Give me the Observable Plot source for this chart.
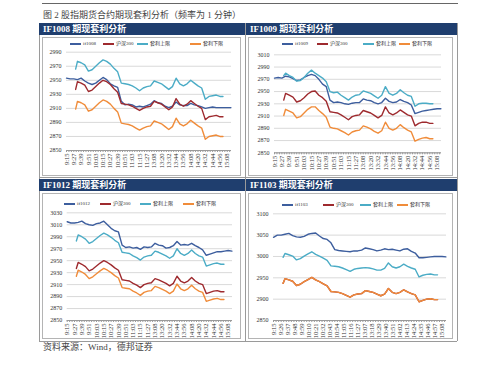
<!DOCTYPE html>
<html>
<head>
<meta charset="utf-8">
<script src="https://cdn.jsdelivr.net/npm/d3@7"></script>
<script src="https://cdn.jsdelivr.net/npm/@observablehq/plot@0.6"></script>
<style>
  html, body { margin: 0; padding: 0; background: #fff; }
  #page { position: relative; width: 500px; height: 371px; overflow: hidden; background: #fff;
          font-family: "Liberation Serif", "Noto Sans CJK SC", serif; color: #333; }
  .abs { position: absolute; }
  .hdr { position: absolute; background: #1f3e6e; color: #fff; font-weight: bold; font-size: 9px;
         line-height: 12px; height: 12px; padding-left: 4px; box-sizing: border-box; white-space: nowrap; }
  .frame { position: absolute; border: 1px solid #b4b4b4; box-sizing: border-box; }
  .vline { position: absolute; width: 0; border-left: 1px solid #9a9a9a; }
  .hline { position: absolute; height: 0; border-top: 1px solid #9a9a9a; }
  .leg { position: absolute; font-size: 5px; line-height: 6px; white-space: nowrap; color: #333;
         display: flex; align-items: center; }
  .sw { display: inline-block; width: 11px; height: 1.6px; margin-right: 2px; }
  svg { position: absolute; }
</style>
</head>
<body>
<div id="page"></div>
<script>
// ---------- data ----------
const futIdx = d3.range(0, 271, 6);                       // minute index from 9:15 (futures)
const spotIdx = [15, 18, ...d3.range(24, 253, 6), 257];   // minute index (spot: 9:30 - 15:00)

const ticksA = ["9:15","9:27","9:39","9:51","10:03","10:15","10:27","10:39","10:51","11:03","11:15","11:27",
                "13:08","13:20","13:32","13:44","13:56","14:08","14:20","14:32","14:44","14:56","15:08"];
const ticksB = ["9:15","9:26","9:37","9:48","9:59","10:10","10:21","10:32","10:43","10:54","11:05","11:16","11:27",
                "13:07","13:18","13:29","13:40","13:51","14:02","14:13","14:24","14:35","14:46","14:57","15:08"];

const seriesNames = ["沪深300", "套利上限", "套利下限"];
const panelTitles = ["IF1008 期现套利分析", "IF1009 期现套利分析", "IF1012 期现套利分析", "IF1103 期现套利分析"];
const futNames = ["if1008", "if1009", "if1012", "if1103"];

// IF1008
const if1008 = [2953,2952,2952,2951,2953,2949,2946,2944,2946,2950,2954,2951,2945,2942,2940,2920,2915,2916,2915,2912,
                2913,2912,2914,2916,2921,2918,2917,2913,2911,2913,2919,2915,2914,2914,2917,2915,2914,2912,2910,2911,
                2912,2911,2911,2911,2911,2911];
const hs1008 = [2937,2948,2946,2943,2934,2936,2941,2946,2950,2948,2944,2938,2933,2917,2916,2915,2913,2910,2907,2910,
                2912,2913,2920,2918,2916,2912,2908,2912,2924,2916,2913,2916,2921,2917,2913,2910,2894,2898,2899,2900,
                2898,2898];
const up1008 = [2966,2977,2975,2972,2963,2965,2970,2975,2979,2977,2973,2967,2962,2946,2945,2944,2942,2939,2935,2939,
                2941,2942,2949,2947,2945,2941,2937,2941,2953,2945,2942,2945,2950,2946,2942,2939,2923,2927,2928,2929,
                2927,2927];
const lo1008 = [2909,2920,2918,2915,2906,2908,2913,2918,2922,2920,2916,2910,2905,2889,2888,2887,2885,2882,2879,2882,
                2884,2885,2892,2890,2888,2884,2880,2884,2896,2888,2885,2888,2893,2889,2885,2882,2866,2870,2871,2872,
                2870,2870];
// IF1009
const if1009 = [2972,2973,2972,2975,2974,2971,2968,2969,2973,2976,2978,2976,2970,2962,2958,2936,2932,2933,2932,2930,
                2929,2931,2932,2932,2938,2936,2935,2932,2930,2932,2939,2934,2932,2933,2937,2934,2932,2928,2914,2916,
                2918,2919,2920,2921,2922,2922];
const hs1009 = [2936,2947,2944,2941,2933,2935,2940,2946,2950,2951,2944,2940,2934,2917,2916,2915,2912,2908,2904,2909,
                2911,2912,2919,2917,2915,2911,2907,2911,2925,2915,2912,2915,2920,2916,2912,2910,2894,2898,2900,2900,
                2898,2898];
const up1009 = [2976,2980,2976,2973,2967,2968,2973,2980,2985,2980,2976,2972,2966,2950,2948,2949,2944,2940,2936,2941,
                2944,2945,2951,2949,2947,2943,2939,2944,2958,2947,2944,2947,2953,2948,2944,2942,2926,2930,2931,2931,
                2930,2930];
const lo1009 = [2911,2921,2918,2915,2907,2909,2915,2921,2925,2925,2919,2914,2908,2892,2890,2889,2886,2883,2879,2884,
                2886,2887,2894,2892,2889,2885,2882,2886,2900,2890,2887,2890,2896,2891,2887,2884,2869,2872,2874,2875,
                2873,2873];
// IF1012
const if1012 = [3015,3013,3013,3014,3016,3012,3010,3009,3012,3013,3016,3010,3004,3000,2998,2976,2972,2973,2971,2972,
                2969,2973,2972,2973,2979,2976,2975,2971,2972,2975,2982,2976,2977,2976,2979,2975,2972,2968,2959,2961,
                2963,2965,2965,2966,2967,2966];
const hs1012 = [2937,2947,2944,2940,2933,2936,2941,2946,2950,2947,2943,2938,2934,2918,2917,2916,2912,2909,2905,2910,
                2912,2913,2920,2918,2915,2912,2908,2912,2924,2916,2913,2916,2922,2916,2912,2910,2895,2897,2899,2900,
                2898,2898];
const up1012 = [2983,2993,2990,2986,2979,2982,2987,2992,2996,2993,2989,2984,2980,2964,2963,2962,2958,2955,2951,2956,
                2958,2959,2966,2964,2961,2958,2954,2958,2970,2962,2959,2962,2968,2962,2958,2956,2941,2943,2945,2946,
                2944,2944];
const lo1012 = [2924,2934,2931,2927,2920,2923,2928,2933,2937,2934,2930,2925,2921,2905,2904,2903,2899,2896,2892,2897,
                2899,2900,2907,2905,2902,2899,2895,2899,2911,2903,2900,2903,2909,2903,2899,2897,2882,2884,2886,2887,
                2885,2885];
// IF1103
const if1103 = [3045,3050,3050,3052,3054,3049,3046,3045,3047,3052,3054,3055,3048,3042,3040,3032,3016,3014,3013,3012,
                3011,3013,3013,3015,3020,3018,3016,3013,3015,3018,3016,3017,3015,3013,3017,3018,3012,3008,2997,2997,
                2998,2999,3000,3000,3000,2999];
const hs1103 = [2937,2948,2945,2942,2932,2935,2941,2946,2951,2945,2941,2936,2931,2918,2917,2916,2913,2909,2905,2910,
                2912,2913,2920,2918,2916,2912,2908,2912,2925,2916,2913,2916,2922,2917,2913,2910,2894,2897,2900,2901,
                2899,2899];
const up1103 = [2998,3007,3004,3001,2992,2995,3001,3006,3011,3005,3001,2996,2991,2978,2977,2976,2973,2969,2965,2970,
                2972,2973,2974,2973,2971,2968,2968,2972,2985,2976,2973,2976,2982,2977,2973,2970,2952,2956,2958,2959,
                2957,2957];
const lo1103 = [2937,2948,2945,2942,2932,2935,2941,2946,2951,2945,2941,2936,2931,2918,2917,2916,2913,2909,2905,2910,
                2912,2913,2920,2918,2916,2912,2908,2912,2925,2916,2913,2916,2922,2917,2913,2910,2894,2897,2900,2901,
                2899,2899];

const yTicksA = [2850,2870,2890,2910,2930,2950,2970,2990];
const yTicksB = [2850,2870,2890,2910,2930,2950,2970,2990,3010];
const yTicksC = [2850,2870,2890,2910,2930,2950,2970,2990,3010,3030];
const yTicksD = [2850,2900,2950,3000,3050,3100];

// ---------- layout / style ----------
const colors = ["#3d5e9e", "#9e2a2e", "#4bacc6", "#f08c3a"];
const page = document.getElementById("page");
function el(cls, css, html) {
  const d = document.createElement("div");
  d.className = cls;
  Object.assign(d.style, css);
  if (html != null) d.innerHTML = html;
  page.appendChild(d);
  return d;
}

// top rule, title, caption
el("hline", {left: "42px", top: "3px", width: "416px", borderTop: "1px solid #666"});
el("abs", {left: "43px", top: "9px", fontSize: "9px", lineHeight: "12px", color: "#444", whiteSpace: "nowrap"},
   "图 2 股指期货合约期现套利分析（频率为 1 分钟）");
el("abs", {left: "43px", top: "341px", fontSize: "9px", lineHeight: "12px", color: "#444", whiteSpace: "nowrap"},
   "资料来源：Wind，德邦证券");

// table lines
[[39, 23, 318], [245, 23, 318], [457, 23, 318]].forEach(([x, y, h]) =>
  el("vline", {left: x + "px", top: y + "px", height: h + "px"}));
el("hline", {left: "39px", top: "177px", width: "418px"});
el("hline", {left: "39px", top: "341px", width: "418px"});

const panels = [
  {hdr: [39, 23, 206], frame: [42, 37, 199, 139], svg: [42, 46, 198, 128], m: [5.7, 9, 24, 24],
   yd: [2850, 2990], yt: yTicksA, step: 12, labels: ticksA, fut: if1008, hs: hs1008, up: up1008, lo: lo1008,
   leg: [44, [70, 103, 137, 190]]},
  {hdr: [246, 23, 211], frame: [248, 37, 205, 139], svg: [249, 46, 203, 128], m: [8.3, 11, 21.7, 25],
   yd: [2850, 3010], yt: yTicksB, step: 12, labels: ticksA, fut: if1009, hs: hs1009, up: up1009, lo: lo1009,
   leg: [44, [282, 317, 363, 399]]},
  {hdr: [39, 179, 206], frame: [42, 193, 199, 146], svg: [42, 207, 198, 131], m: [5.3, 8, 18, 24.7],
   yd: [2850, 3030], yt: yTicksC, step: 12, labels: ticksA, fut: if1012, hs: hs1012, up: up1012, lo: lo1012,
   leg: [204, [64, 100, 140, 183]]},
  {hdr: [246, 179, 211], frame: [248, 193, 205, 146], svg: [249, 207, 203, 131], m: [6.3, 6, 18, 24],
   yd: [2850, 3100], yt: yTicksD, step: 11, labels: ticksB, fut: if1103, hs: hs1103, up: up1103, lo: lo1103,
   leg: [205, [282, 323, 360, 397]]}
];

panels.forEach((p, k) => {
  el("hdr", {left: p.hdr[0] + "px", top: p.hdr[1] + "px", width: p.hdr[2] + "px"}, panelTitles[k]);
  el("frame", {left: p.frame[0] + "px", top: p.frame[1] + "px", width: p.frame[2] + "px", height: p.frame[3] + "px"});

  // legend
  const names = [futNames[k], ...seriesNames];
  names.forEach((n, j) => {
    el("leg", {left: p.leg[1][j] + "px", top: (p.leg[0] - 3) + "px"},
       `<span class="sw" style="background:${colors[j]}"></span>${n}`);
  });

  const tickIdx = p.labels.map((_, i) => i * p.step);
  const labelMap = new Map(tickIdx.map((t, i) => [t, p.labels[i]]));
  const pts = (xs, ys) => ys.map((v, i) => [xs[i], v]);

  const chart = Plot.plot({
    width: p.svg[2], height: p.svg[3],
    marginTop: p.m[0], marginRight: p.m[1], marginBottom: p.m[2], marginLeft: p.m[3],
    x: {domain: [0, 271], axis: null},
    y: {domain: p.yd, axis: null},
    style: {background: "transparent", color: "#333", fontFamily: "Liberation Serif, Noto Sans CJK SC, serif", overflow: "visible"},
    marks: [
      Plot.gridY(p.yt, {stroke: "#cfcfcf", strokeOpacity: 1, strokeWidth: 0.8}),
      Plot.axisY(p.yt, {tickSize: 0, tickPadding: 5, fontSize: 6, tickFormat: d => String(d)}),
      Plot.ruleY([p.yd[0]], {stroke: "#9a9a9a", strokeWidth: 1}),
      Plot.axisX(d3.range(0, 272, 4), {tickSize: 2, stroke: "#9a9a9a", tickFormat: () => ""}),
      Plot.axisX(tickIdx, {tickSize: 0, tickPadding: 3, tickRotate: -90, fontSize: 6.5, tickFormat: d => labelMap.get(d)}),
      Plot.line(pts(futIdx, p.fut), {stroke: colors[0], strokeWidth: 1.4}),
      Plot.line(pts(spotIdx, p.hs), {stroke: colors[1], strokeWidth: 1.4}),
      Plot.line(pts(spotIdx, p.up), {stroke: colors[2], strokeWidth: 1.4}),
      Plot.line(pts(spotIdx, p.lo), {stroke: colors[3], strokeWidth: 1.4})
    ]
  });
  chart.style.left = p.svg[0] + "px";
  chart.style.top = p.svg[1] + "px";
  page.appendChild(chart);
});
</script>
</body>
</html>
